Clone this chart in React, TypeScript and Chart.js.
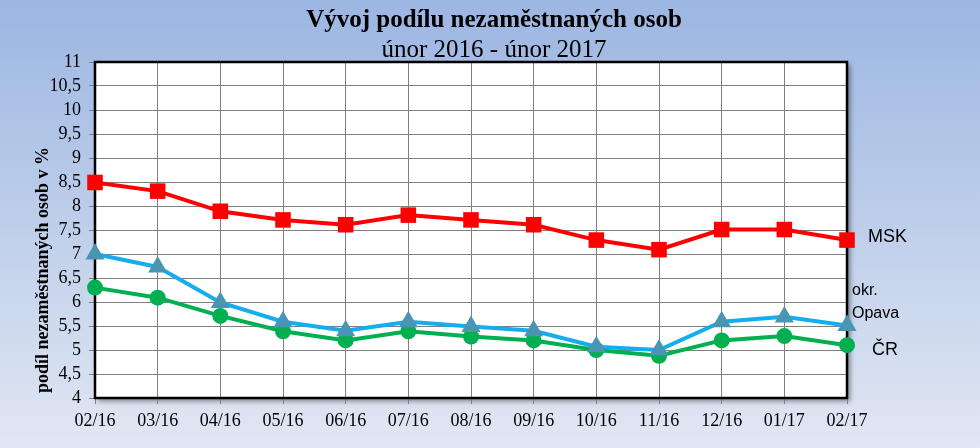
import React, { useEffect, useRef } from "react";
import { Chart, registerables } from "chart.js";

Chart.register(...registerables);

const categories = ["02/16", "03/16", "04/16", "05/16", "06/16", "07/16", "08/16", "09/16", "10/16", "11/16", "12/16", "01/17", "02/17"];
const msk = [8.49, 8.31, 7.89, 7.71, 7.61, 7.81, 7.71, 7.61, 7.29, 7.09, 7.51, 7.51, 7.29];
const opava = [7.0, 6.73, 5.99, 5.59, 5.4, 5.59, 5.49, 5.4, 5.07, 5.0, 5.59, 5.69, 5.51];
const cr = [6.3, 6.09, 5.71, 5.39, 5.2, 5.39, 5.28, 5.2, 5.0, 4.88, 5.2, 5.29, 5.1];
const yTicks = [4, 4.5, 5, 5.5, 6, 6.5, 7, 7.5, 8, 8.5, 9, 9.5, 10, 10.5, 11];

const titleText = "Vývoj podílu nezaměstnaných osob";
const subtitleText = "únor 2016 - únor 2017";
const yTitle = "podíl nezaměstnaných osob v %";

const SERIF = "'Liberation Serif', 'Times New Roman', serif";
const SANS = "'Liberation Sans', Arial, sans-serif";

const decorPlugin = {
  id: "decor",
  beforeDraw(chart: any) {
    const { ctx, width, height, chartArea: a } = chart;
    ctx.save();
    const g = ctx.createLinearGradient(0, 0, 0, height);
    g.addColorStop(0, "#9cb6e2");
    g.addColorStop(1, "#e1e7f3");
    ctx.fillStyle = g;
    ctx.fillRect(0, 0, width, height);
    ctx.shadowColor = "rgba(0,0,0,0.45)";
    ctx.shadowBlur = 5;
    ctx.shadowOffsetX = 3;
    ctx.shadowOffsetY = 3;
    ctx.fillStyle = "#ffffff";
    ctx.fillRect(a.left, a.top, a.right - a.left, a.bottom - a.top);
    ctx.restore();
  },
  beforeDatasetsDraw(chart: any) {
    const { ctx, chartArea: a } = chart;
    ctx.save();
    ctx.strokeStyle = "#000";
    ctx.lineWidth = 2.5;
    ctx.strokeRect(a.left, a.top, a.right - a.left, a.bottom - a.top);
    ctx.restore();
  },
  afterDraw(chart: any) {
    const { ctx, chartArea: a } = chart;
    const y = chart.scales.y;
    ctx.save();
    ctx.fillStyle = "#000";
    ctx.textAlign = "center";
    ctx.textBaseline = "middle";
    ctx.font = `bold 25px ${SERIF}`;
    ctx.fillText(titleText, 494, 21);
    ctx.font = `25px ${SERIF}`;
    ctx.fillText(subtitleText, 494, 50);

    ctx.save();
    ctx.translate(43, 270);
    ctx.rotate(-Math.PI / 2);
    ctx.font = `bold 18px ${SERIF}`;
    ctx.fillText(yTitle, 0, 0);
    ctx.restore();

    ctx.textAlign = "left";
    ctx.font = `18px ${SANS}`;
    const n = categories.length - 1;
    ctx.fillText("MSK", a.right + 21, y.getPixelForValue(msk[n]) - 3);
    ctx.fillText("ČR", a.right + 25, y.getPixelForValue(cr[n]) + 5);
    ctx.font = `16px ${SANS}`;
    const oy = y.getPixelForValue(opava[n]);
    ctx.fillText("okr.", a.right + 5, oy - 35);
    ctx.fillText("Opava", a.right + 5, oy - 12);
    ctx.restore();
  },
};

export default function App() {
  const ref = useRef<HTMLCanvasElement>(null);
  useEffect(() => {
    document.body.style.margin = "0";
    const chart = new Chart(ref.current!, {
      type: "line",
      data: {
        labels: categories,
        datasets: [
          {
            label: "MSK",
            data: msk,
            borderColor: "#ff0000",
            backgroundColor: "#ff0000",
            borderWidth: 4,
            pointStyle: "rect",
            pointRadius: 11,
            pointBorderWidth: 0,
            clip: false as any,
          },
          {
            label: "okr. Opava",
            data: opava,
            borderColor: "#14aeee",
            backgroundColor: "#4a94b4",
            borderWidth: 4,
            pointStyle: "triangle",
            pointRadius: 11,
            pointBorderWidth: 0,
            clip: false as any,
          },
          {
            label: "ČR",
            data: cr,
            borderColor: "#00b050",
            backgroundColor: "#00b050",
            borderWidth: 4,
            pointStyle: "circle",
            pointRadius: 8,
            pointBorderWidth: 0,
            clip: false as any,
          },
        ],
      },
      options: {
        responsive: false,
        animation: false,
        layout: { padding: { top: 62, right: 133, left: 0, bottom: 0 } },
        plugins: { legend: { display: false }, title: { display: false }, tooltip: { enabled: false } },
        scales: {
          x: {
            type: "category",
            offset: false,
            grid: { color: "#808080", lineWidth: 1, tickLength: 6, drawOnChartArea: true },
            border: { display: false },
            ticks: { color: "#000", font: { family: SERIF, size: 18 }, padding: 6, maxRotation: 0, autoSkip: false },
            afterFit: (s: any) => { s.height = 50; },
          },
          y: {
            min: 4,
            max: 11,
            grid: { color: "#808080", lineWidth: 1, tickLength: 6, drawOnChartArea: true },
            border: { display: false },
            afterBuildTicks: (s: any) => { s.ticks = yTicks.map((v) => ({ value: v })); },
            ticks: {
              color: "#000",
              font: { family: SERIF, size: 18 },
              padding: 8,
              autoSkip: false,
              callback: (v: any) => String(v).replace(".", ","),
            },
            afterFit: (s: any) => { s.width = 95; },
          },
        },
      },
      plugins: [decorPlugin],
    });
    return () => chart.destroy();
  }, []);
  return <canvas ref={ref} width={980} height={448} style={{ display: "block" }} />;
}
